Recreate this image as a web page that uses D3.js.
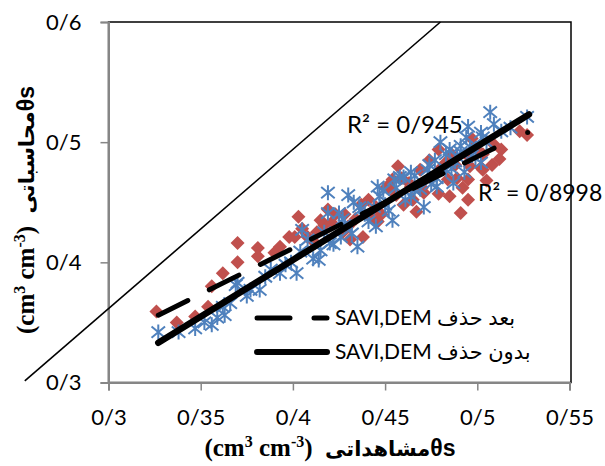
<!DOCTYPE html>
<html lang="fa">
<head>
<meta charset="utf-8">
<script src="https://cdn.jsdelivr.net/npm/d3@7"></script>
<style>
  body { margin: 0; background: #fff; }
  svg { display: block; }
  .tick text { font-family: Lato, "DejaVu Sans", sans-serif; font-size: 22px; fill: #000; }
  .lbl { font-family: Lato, "DejaVu Sans", sans-serif; fill: #000; }
</style>
</head>
<body>
<svg width="605" height="466"></svg>
<script>
// tick values and labels (decimal sign shown as "/")
var xTicks = [0.3, 0.35, 0.4, 0.45, 0.5, 0.55];
var xTickLabels = ["0/3", "0/35", "0/4", "0/45", "0/5", "0/55"];
var yTicks = [0.3, 0.4, 0.5, 0.6];
var yTickLabels = ["0/3", "0/4", "0/5", "0/6"];

// series after removal (red diamonds)
var redX = [0.326, 0.337, 0.347, 0.354, 0.356, 0.362, 0.370, 0.370, 0.381, 0.381,
            0.390, 0.398, 0.401, 0.403, 0.408, 0.417, 0.419, 0.415, 0.430, 0.431,
            0.442, 0.446, 0.457, 0.451, 0.465, 0.454, 0.479, 0.483, 0.496, 0.503,
            0.495, 0.485, 0.495, 0.491, 0.471, 0.464, 0.527, 0.523, 0.509, 0.503,
            0.508, 0.502, 0.489, 0.423, 0.437, 0.438, 0.456, 0.475, 0.488, 0.494,
            0.499, 0.469, 0.459, 0.412, 0.393, 0.427, 0.445, 0.484, 0.513,
            0.405, 0.413, 0.421, 0.428, 0.434, 0.441, 0.448, 0.452, 0.460, 0.463,
            0.470, 0.474, 0.479, 0.486, 0.492, 0.497, 0.505, 0.512, 0.480, 0.467];
var redY = [0.359, 0.350, 0.355, 0.363, 0.380, 0.391, 0.400, 0.416, 0.412, 0.405,
            0.408, 0.421, 0.421, 0.438, 0.421, 0.431, 0.444, 0.435, 0.430, 0.419,
            0.438, 0.434, 0.480, 0.463, 0.452, 0.469, 0.494, 0.483, 0.480, 0.477,
            0.469, 0.455, 0.452, 0.441, 0.458, 0.463, 0.506, 0.509, 0.498, 0.490,
            0.481, 0.479, 0.470, 0.440, 0.448, 0.421, 0.456, 0.470, 0.481, 0.490,
            0.495, 0.477, 0.470, 0.416, 0.413, 0.425, 0.446, 0.469, 0.494,
            0.428, 0.425, 0.433, 0.440, 0.436, 0.452, 0.440, 0.462, 0.448, 0.466,
            0.462, 0.485, 0.457, 0.490, 0.462, 0.503, 0.468, 0.486, 0.478, 0.442];

// series without removal (blue asterisks)
var blueX = [0.327, 0.338, 0.347, 0.352, 0.356, 0.359, 0.363, 0.366, 0.369, 0.370,
             0.382, 0.393, 0.402, 0.414, 0.415, 0.408, 0.405, 0.420, 0.419, 0.430,
             0.433, 0.419, 0.425, 0.437, 0.446, 0.449, 0.444, 0.445, 0.454, 0.464,
             0.426, 0.435, 0.455, 0.460, 0.495, 0.502, 0.496, 0.489, 0.480, 0.473,
             0.464, 0.458, 0.478, 0.487, 0.471, 0.502, 0.507, 0.527, 0.494, 0.503,
             0.513, 0.491, 0.499, 0.493, 0.488, 0.428, 0.439, 0.450, 0.466, 0.475,
             0.483, 0.388, 0.399, 0.377, 0.518, 0.477, 0.485,
             0.404, 0.411, 0.417, 0.422, 0.427, 0.432, 0.436, 0.441, 0.447, 0.452,
             0.456, 0.461, 0.466, 0.469, 0.474, 0.478, 0.483, 0.486, 0.491, 0.497,
             0.505, 0.509, 0.396, 0.385, 0.375, 0.362];
var blueY = [0.342, 0.342, 0.345, 0.350, 0.348, 0.354, 0.356, 0.366, 0.381, 0.383,
             0.377, 0.391, 0.391, 0.402, 0.410, 0.419, 0.427, 0.416, 0.458, 0.456,
             0.450, 0.441, 0.441, 0.444, 0.463, 0.460, 0.446, 0.430, 0.435, 0.455,
             0.421, 0.413, 0.469, 0.471, 0.513, 0.508, 0.496, 0.488, 0.500, 0.477,
             0.475, 0.471, 0.463, 0.466, 0.446, 0.483, 0.525, 0.521, 0.504, 0.504,
             0.509, 0.492, 0.487, 0.475, 0.484, 0.431, 0.440, 0.448, 0.460, 0.465,
             0.477, 0.394, 0.400, 0.377, 0.512, 0.485, 0.494,
             0.409, 0.403, 0.425, 0.415, 0.436, 0.424, 0.446, 0.434, 0.455, 0.443,
             0.462, 0.452, 0.472, 0.461, 0.481, 0.470, 0.490, 0.478, 0.497, 0.489,
             0.500, 0.515, 0.398, 0.388, 0.372, 0.363];

// trend lines (end points) and the drawn reference line
var trendSolid = [[0.327, 0.333], [0.528, 0.523]];
var trendDash = [[0.327, 0.356], [0.517, 0.501]];
var refLine = [[0.2546, 0.3013], [0.480, 0.6]];
var dotX = [0.5273], dotY = [0.508];

var r2Texts = ["R\u00B2 = 0/945", "R\u00B2 = 0/8998"];
var legendTexts = ["SAVI,DEM \u0628\u0639\u062F \u062D\u0630\u0641", "SAVI,DEM \u0628\u062F\u0648\u0646 \u062D\u0630\u0641"];

var svg = d3.select("svg");
var red = "#C0504D", blue = "#4F81BD";

var x = d3.scaleLinear().domain([0.3, 0.55]).range([108.5, 569.5]);
var y = d3.scaleLinear().domain([0.3, 0.6]).range([382.5, 22]);

// plot area frame
svg.append("rect")
  .attr("x", x(0.3)).attr("y", y(0.6))
  .attr("width", x(0.55) - x(0.3) + 1.5).attr("height", y(0.3) - y(0.6))
  .attr("fill", "none").attr("stroke", "#000").attr("stroke-width", 1.5);

// axes
svg.append("g")
  .attr("transform", "translate(0," + y(0.3) + ")")
  .call(d3.axisBottom(x).tickValues(xTicks).tickSize(8).tickPadding(19)
    .tickFormat(function(d, i) { return xTickLabels[i]; }));
svg.append("g")
  .attr("transform", "translate(" + x(0.3) + ",0)")
  .call(d3.axisLeft(y).tickValues(yTicks).tickSize(8).tickPadding(19)
    .tickFormat(function(d, i) { return yTickLabels[i]; }));
svg.selectAll(".domain").attr("stroke", "#868686").attr("stroke-width", 2);
svg.selectAll(".tick line").attr("stroke", "#868686").attr("stroke-width", 1.5);

// reference line
var line = d3.line().x(function(d) { return x(d[0]); }).y(function(d) { return y(d[1]); });
svg.append("path").attr("d", line(refLine))
  .attr("stroke", "#000").attr("stroke-width", 1.6).attr("fill", "none");

// marker shapes
var diamond = { draw: function(ctx, size) {
  var r = Math.sqrt(size / 2);
  ctx.moveTo(0, -r); ctx.lineTo(r, 0); ctx.lineTo(0, r); ctx.lineTo(-r, 0); ctx.closePath();
}};
var star = { draw: function(ctx, size) {
  var r = Math.sqrt(size) / 2;
  ctx.moveTo(0, -r); ctx.lineTo(0, r);
  ctx.moveTo(-r * 0.9, -r * 0.75); ctx.lineTo(r * 0.9, r * 0.75);
  ctx.moveTo(-r * 0.9, r * 0.75); ctx.lineTo(r * 0.9, -r * 0.75);
}};

svg.append("g").selectAll("path")
  .data(redX)
  .enter().append("path")
  .attr("transform", function(d, i) { return "translate(" + x(d) + "," + y(redY[i]) + ")"; })
  .attr("d", d3.symbol().type(diamond).size(98))
  .attr("fill", red);

svg.append("g").selectAll("path")
  .data(blueX)
  .enter().append("path")
  .attr("transform", function(d, i) { return "translate(" + x(d) + "," + y(blueY[i]) + ")"; })
  .attr("d", d3.symbol().type(star).size(225))
  .attr("fill", "none").attr("stroke", blue).attr("stroke-width", 2);

// trend lines
svg.append("path").attr("d", line(trendDash))
  .attr("stroke", "#000").attr("stroke-width", 5).attr("fill", "none")
  .attr("stroke-linecap", "round").attr("stroke-dasharray", "33,24");
svg.append("path").attr("d", line(trendSolid))
  .attr("stroke", "#000").attr("stroke-width", 6.5).attr("fill", "none")
  .attr("stroke-linecap", "round");
svg.selectAll(".dot").data(dotX).enter().append("circle")
  .attr("cx", function(d) { return x(d); }).attr("cy", function(d, i) { return y(dotY[i]); })
  .attr("r", 2.5).attr("fill", "#000");

// R² labels
svg.append("text").attr("class", "lbl").attr("x", 347).attr("y", 133)
  .attr("font-size", 24).text(r2Texts[0]);
svg.append("text").attr("class", "lbl").attr("x", 478).attr("y", 201)
  .attr("font-size", 23).text(r2Texts[1]);

// legend
var leg = svg.append("g");
[318, 352].forEach(function(ly, i) {
  leg.append("line").attr("x1", 257).attr("x2", 327).attr("y1", ly).attr("y2", ly)
    .attr("stroke", "#000").attr("stroke-width", i === 0 ? 5 : 6)
    .attr("stroke-linecap", "round")
    .attr("stroke-dasharray", i === 0 ? "33,24" : null);
  leg.append("text").attr("class", "lbl").attr("x", 335).attr("y", ly + 7)
    .attr("font-size", 21).text(legendTexts[i]);
});

// axis titles
function title(g, word) {
  var t = g.append("text").attr("font-weight", "bold").attr("text-anchor", "middle");
  t.append("tspan").attr("font-family", "'Liberation Serif', serif").attr("font-size", 25).text("(cm");
  t.append("tspan").attr("font-family", "'Liberation Serif', serif").attr("font-size", 16).attr("dy", -9).text("3");
  t.append("tspan").attr("font-family", "'Liberation Serif', serif").attr("font-size", 25).attr("dy", 9).text(" cm");
  t.append("tspan").attr("font-family", "'Liberation Serif', serif").attr("font-size", 16).attr("dy", -9).text("-3");
  t.append("tspan").attr("font-family", "'Liberation Serif', serif").attr("font-size", 25).attr("dy", 9).text(")\u00A0\u00A0");
  t.append("tspan").attr("font-family", "'DejaVu Sans', sans-serif").attr("font-size", 21).text(word);
  t.append("tspan").attr("font-family", "'Liberation Sans', sans-serif").attr("font-size", 23).text("\u03B8s");
  return t;
}
title(svg.append("g").attr("transform", "translate(330,456)"), "\u0645\u0634\u0627\u0647\u062F\u0627\u062A\u06CC");
title(svg.append("g").attr("transform", "translate(34,210) rotate(-90)"), "\u0645\u062D\u0627\u0633\u0628\u0627\u062A\u06CC");
</script>
</body>
</html>
